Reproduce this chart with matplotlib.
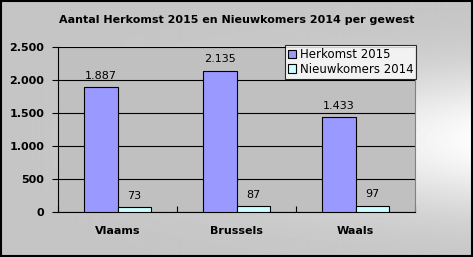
import matplotlib
matplotlib.use("Agg")
from matplotlib import pyplot as plt
import numpy as np

regions = ["Vlaams", "Brussels", "Waals"]
herkomst_2015 = [1887, 2135, 1433]
nieuwkomers_2014 = [73, 87, 97]
yticks = [0, 500, 1000, 1500, 2000, 2500]
ytick_labels = ["0", "500", "1.000", "1.500", "2.000", "2.500"]

def dotted(v):
    return f"{v:,}".replace(",", ".")

fig = plt.figure(figsize=(4.73, 2.57), dpi=100)

# background gradient for the whole chart (light band on the right, middle height)
bg = fig.add_axes([0, 0, 1, 1], zorder=-10)
px = np.arange(473)
py = np.arange(257)
X, Y = np.meshgrid(px, py)
grad = 0.77 + 0.22 * np.exp(-((Y - 140) / 70.0) ** 2) * (X / 473.0) ** 1.5
bg.imshow(grad, cmap="gray", vmin=0, vmax=1, aspect="auto", extent=[0, 1, 0, 1], origin="upper")
bg.set_axis_off()
bg.add_patch(plt.Rectangle((0.002, 0.004), 0.995, 0.992, fill=False, edgecolor="black", lw=1.5, transform=bg.transAxes))

ax = fig.add_axes([58 / 473, 1 - 212 / 257, (415 - 58) / 473, (212 - 47) / 257])
ax.set_facecolor("#C0C0C0")

x = np.arange(len(regions))
w = 0.285
b1 = ax.bar(x - w / 2, herkomst_2015, w, color="#9999FF", edgecolor="black", lw=0.8, label="Herkomst 2015", zorder=3)
b2 = ax.bar(x + w / 2, nieuwkomers_2014, w, color="#CCFFFF", edgecolor="black", lw=0.8, label="Nieuwkomers 2014", zorder=3)

for bars in (b1, b2):
    for r in bars:
        ax.text(r.get_x() + r.get_width() / 2, r.get_height() + 100, dotted(int(r.get_height())),
                ha="center", va="bottom", fontsize=8, zorder=4)

ax.set_xlim(-0.5, 2.5)
ax.set_ylim(0, 2500)
ax.set_yticks(yticks)
ax.set_yticklabels(ytick_labels, fontsize=8, fontweight="bold")
ax.set_xticks([-0.5, 0.5, 1.5, 2.5], minor=False)
ax.set_xticklabels([])
ax.set_xticks(x, minor=True)
ax.set_xticklabels(regions, minor=True, fontsize=8, fontweight="bold")
ax.tick_params(axis="x", which="minor", length=0, pad=10)
ax.tick_params(axis="x", which="major", length=4, direction="in")
ax.tick_params(axis="y", length=4, direction="out", pad=6)
ax.grid(axis="y", color="black", lw=0.8, zorder=1)
ax.spines["top"].set_visible(False)
ax.spines["right"].set_color("#808080")
ax.spines["right"].set_linewidth(0.8)
ax.spines["left"].set_linewidth(0.8)
ax.spines["bottom"].set_linewidth(0.8)

fig.text(0.5, 1 - 20 / 257, "Aantal Herkomst 2015 en Nieuwkomers 2014 per gewest",
         ha="center", va="center", fontsize=8, fontweight="bold")

leg = fig.legend(handles=[b1, b2], loc="upper left", bbox_to_anchor=(285 / 473, 1 - 45 / 257),
                 fontsize=8.5, frameon=True, fancybox=False, handlelength=0.7, handleheight=0.7,
                 handletextpad=0.3, borderpad=0.25, labelspacing=0.15, borderaxespad=0)
leg.get_frame().set_edgecolor("black")
leg.get_frame().set_linewidth(0.8)
leg.get_frame().set_facecolor("white")

fig.savefig("out.png", dpi=100)
